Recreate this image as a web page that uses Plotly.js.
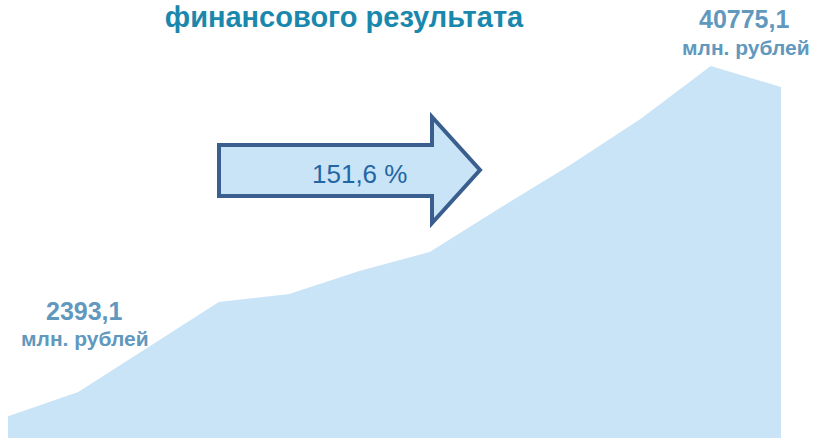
<!DOCTYPE html>
<html>
<head>
<meta charset="utf-8">
<script src="https://cdn.plot.ly/plotly-3.0.1.min.js"></script>
<style>html,body{margin:0;padding:0;background:#fff;}#chart{width:813px;height:438px;}</style>
</head>
<body>
<div id="chart"></div>
<script>
// Data (monthly cumulative financial result, млн. рублей)
var periods = [1, 2, 3, 4, 5, 6, 7, 8, 9, 10, 11, 12];
var values = [2393.1, 5042, 9975, 14908, 15784, 18305, 20388, 25211, 29924, 34966, 40775.1, 38473];
var startLabel = "2393,1";
var peakLabel = "40775,1";
var unitLabel = "млн. рублей";
var growthLabel = "151,6 %";
var titleText = "финансового результата";

var W = 813, H = 438, ML = 8, MR = 32;
function px(x){ return (x - ML) / (W - ML - MR); }
function py(y){ return (H - y) / H; }

var trace = {
  x: periods, y: values, type: 'scatter', mode: 'lines',
  fill: 'tozeroy', fillcolor: '#c9e3f7',
  line: {width: 0, color: '#c9e3f7'}, hoverinfo: 'skip', showlegend: false
};

var arrowPts = [[219,145],[432,145],[432,117],[480,170],[432,223],[432,196],[219,196]];
var path = arrowPts.map(function(p,i){ return (i===0?'M':'L') + px(p[0]).toFixed(5) + ',' + py(p[1]).toFixed(5); }).join(' ') + ' Z';

var labelColor = '#6198bd';
var fontFam = 'Arial, "Liberation Sans", sans-serif';

var layout = {
  width: W, height: H,
  margin: {l: ML, r: MR, t: 0, b: 0},
  paper_bgcolor: '#ffffff', plot_bgcolor: '#ffffff',
  title: {
    text: '<b>' + titleText + '</b>',
    font: {family: fontFam, size: 29, color: '#1a88ad'},
    x: 344 / W, xanchor: 'center', xref: 'container',
    y: 1 - 17 / H, yanchor: 'middle', yref: 'container'
  },
  xaxis: {visible: false, range: [periods[0], periods[periods.length-1]], fixedrange: true},
  yaxis: {visible: false, range: [0, values[10] * H / 372], fixedrange: true},
  shapes: [{
    type: 'path', xref: 'paper', yref: 'paper', path: path,
    fillcolor: '#c9e3f7', line: {color: '#3a5f8e', width: 4}
  }],
  annotations: [
    {xref: 'paper', yref: 'paper', x: px(359), y: py(174), text: growthLabel, showarrow: false,
     xanchor: 'center', yanchor: 'middle', font: {family: fontFam, size: 26, color: '#2266a3'}},
    {xref: 'paper', yref: 'paper', x: px(84), y: py(311), text: '<b>' + startLabel + '</b>', showarrow: false,
     xanchor: 'center', yanchor: 'middle', font: {family: fontFam, size: 25, color: labelColor}},
    {xref: 'paper', yref: 'paper', x: px(85), y: py(338), text: '<b>' + unitLabel + '</b>', showarrow: false,
     xanchor: 'center', yanchor: 'middle', font: {family: fontFam, size: 21, color: labelColor}},
    {xref: 'paper', yref: 'paper', x: px(744), y: py(19), text: '<b>' + peakLabel + '</b>', showarrow: false,
     xanchor: 'center', yanchor: 'middle', font: {family: fontFam, size: 25, color: labelColor}},
    {xref: 'paper', yref: 'paper', x: px(746), y: py(47), text: '<b>' + unitLabel + '</b>', showarrow: false,
     xanchor: 'center', yanchor: 'middle', font: {family: fontFam, size: 21, color: labelColor}}
  ]
};

Plotly.newPlot('chart', [trace], layout, {displayModeBar: false, staticPlot: true});
</script>
</body>
</html>
